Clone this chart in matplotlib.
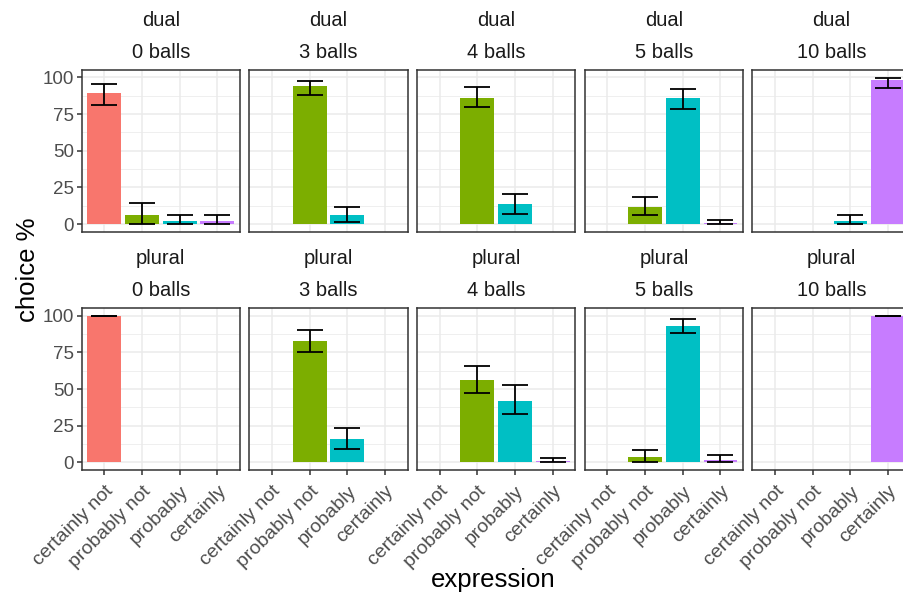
import numpy as np
import matplotlib
matplotlib.use("Agg")
import matplotlib.pyplot as plt
import matplotlib.transforms as mtransforms

plt.rcParams["font.family"] = ["Liberation Sans", "DejaVu Sans"]

expressions = ["certainly not", "probably not", "probably", "certainly"]
colors = ["#F8766D", "#7CAE00", "#00BFC4", "#C77CFF"]
conditions = ["dual", "plural"]
balls = ["0 balls", "3 balls", "4 balls", "5 balls", "10 balls"]

nan = np.nan
# mean choice % per panel (rows: condition, cols: balls), nan = no responses
dual_mean = [
    [89, 6, 2, 2],
    [nan, 94, 6, nan],
    [nan, 86, 13.5, nan],
    [nan, 12, 86, 0.7],
    [nan, nan, 2, 98],
]
dual_lo = [
    [81, 0, 0, 0],
    [nan, 88, 1.8, nan],
    [nan, 79.5, 7, nan],
    [nan, 6, 78.5, 0],
    [nan, nan, 0, 93],
]
dual_hi = [
    [95.5, 14.5, 6.3, 6.3],
    [nan, 97.5, 11.5, nan],
    [nan, 93.5, 20.7, nan],
    [nan, 18.5, 92, 2.9],
    [nan, nan, 6.1, 99.6],
]
plural_mean = [
    [100, nan, nan, nan],
    [nan, 83, 16, nan],
    [nan, 56, 42, 0.9],
    [nan, 4, 93, 2],
    [nan, nan, nan, 100],
]
plural_lo = [
    [100, nan, nan, nan],
    [nan, 75, 9, nan],
    [nan, 47, 33, 0],
    [nan, 0, 88, 0],
    [nan, nan, nan, 100],
]
plural_hi = [
    [100, nan, nan, nan],
    [nan, 90.5, 23.5, nan],
    [nan, 65.5, 53, 3],
    [nan, 8.2, 97.8, 5],
    [nan, nan, nan, 100],
]

means = {"dual": dual_mean, "plural": plural_mean}
lows = {"dual": dual_lo, "plural": plural_lo}
highs = {"dual": dual_hi, "plural": plural_hi}

W, H = 904, 599
fig = plt.figure(figsize=(W / 100, H / 100), dpi=100)

col_left = [81.7, 249.4, 417.1, 584.8, 752.5]
panel_w = 158.3
row_top = [70, 308.3]
panel_h = 161.5
grid_col = "#EBEBEB"
text_col = "#4D4D4D"
x = np.arange(1, 5)

for r, cond in enumerate(conditions):
    for c, b in enumerate(balls):
        ax = fig.add_axes([col_left[c] / W, 1 - (row_top[r] + panel_h) / H,
                           panel_w / W, panel_h / H])
        m = np.array(means[cond][c], dtype=float)
        lo = np.array(lows[cond][c], dtype=float)
        hi = np.array(highs[cond][c], dtype=float)
        ok = ~np.isnan(m)
        ax.bar(x[ok], m[ok], width=0.9, color=np.array(colors)[ok], zorder=2)
        ax.errorbar(x[ok], m[ok], yerr=[m[ok] - lo[ok], hi[ok] - m[ok]],
                    fmt="none", ecolor="black", elinewidth=1.3,
                    capsize=9.5, capthick=1.3, zorder=3)
        ax.set_xlim(0.4, 4.6)
        ax.set_ylim(-5, 105)
        ax.set_yticks([0, 25, 50, 75, 100])
        ax.set_yticks([12.5, 37.5, 62.5, 87.5], minor=True)
        ax.set_xticks(x)
        ax.grid(True, which="major", color=grid_col, linewidth=1.1, zorder=0)
        ax.grid(True, which="minor", axis="y", color=grid_col, linewidth=0.55, zorder=0)
        ax.set_axisbelow(True)
        for s in ax.spines.values():
            s.set_color("#333333")
            s.set_linewidth(1.1)
        ax.tick_params(which="minor", length=0)
        ax.tick_params(which="major", color="#333333", width=1.1, length=3.5,
                       labelsize=13.5, labelcolor=text_col, pad=2)
        if c == 0:
            ax.set_yticklabels(["0", "25", "50", "75", "100"])
        else:
            ax.tick_params(axis="y", length=0, labelleft=False)
        if r == 1:
            # shift the rotated labels so their ends sit by the ticks
            offset = mtransforms.ScaledTranslation(0, -5 / 100, fig.dpi_scale_trans)
            ax.set_xticklabels(expressions, rotation=45, ha="right", va="top",
                               rotation_mode="anchor", fontsize=14)
            for lab in ax.get_xticklabels():
                lab.set_transform(lab.get_transform() + offset)
        else:
            ax.tick_params(axis="x", length=0, labelbottom=False)

        cx = (col_left[c] + panel_w / 2) / W
        fig.text(cx, 1 - (row_top[r] - 50) / H, cond, ha="center", va="center",
                 fontsize=14.5, color="#1A1A1A")
        fig.text(cx, 1 - (row_top[r] - 18) / H, b, ha="center", va="center",
                 fontsize=14.5, color="#1A1A1A")

fig.text(28 / W, 1 - 270 / H, "choice %", rotation=90, ha="center", va="center",
         fontsize=18.5)
fig.text(493 / W, 1 - 580 / H, "expression", ha="center", va="center", fontsize=18.5)

fig.savefig("out.png", dpi=100)
